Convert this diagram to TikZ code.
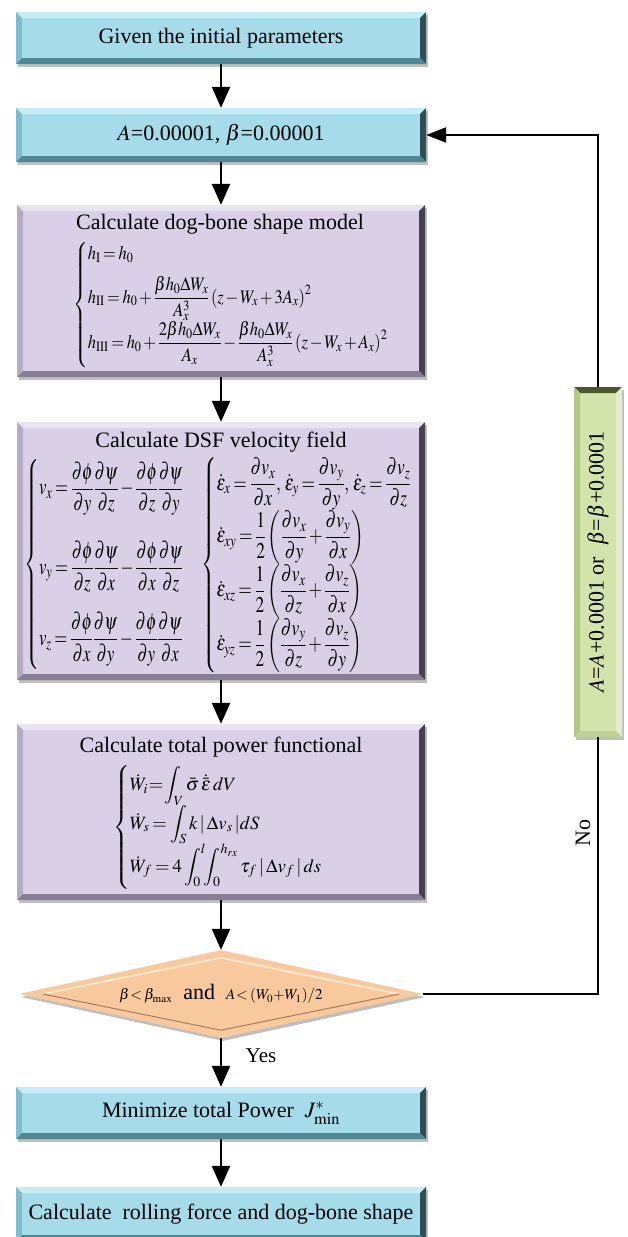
\documentclass[tikz,border=0pt]{standalone}
\usepackage{amsmath}
\usepackage{graphicx}
\usepackage{mathptmx}
\usepackage[no-math]{fontspec}
\setmainfont{Liberation Serif}
\usetikzlibrary{arrows.meta,shapes.geometric,shadows}
\definecolor{cyF}{HTML}{A6DCEA}
\definecolor{cyT}{HTML}{C6ECF5}
\definecolor{cyL}{HTML}{7DBDCC}
\definecolor{cyR}{HTML}{2E4E56}
\definecolor{cyB}{HTML}{4F8894}
\definecolor{puF}{HTML}{D9D0E7}
\definecolor{puT}{HTML}{E9E4F1}
\definecolor{puL}{HTML}{B5ABC3}
\definecolor{puR}{HTML}{47414F}
\definecolor{puB}{HTML}{877E93}
\definecolor{grF}{HTML}{D3E3AC}
\definecolor{grT}{HTML}{4A582E}
\definecolor{grL}{HTML}{B3C787}
\definecolor{grR}{HTML}{E4EDCB}
\definecolor{grB}{HTML}{BFD197}
\definecolor{diF}{HTML}{F9C99E}
\definecolor{diH}{HTML}{FFEBD6}
\definecolor{diS}{HTML}{A87A58}
\newcommand{\mypd}[2]{\dfrac{\partial #1}{\partial #2}}
\newcommand{\tightmath}{\thickmuskip=3mu plus 1mu\medmuskip=2mu plus 1mu\thinmuskip=2mu}
\newlength{\bevw}\setlength{\bevw}{6pt}
\tikzset{
 bevelbox/.style n args={5}{rectangle, inner sep=0pt, fill=#1,
  path picture={
   \path (path picture bounding box.north west) coordinate (bNW)
         (path picture bounding box.north east) coordinate (bNE)
         (path picture bounding box.south east) coordinate (bSE)
         (path picture bounding box.south west) coordinate (bSW);
   \fill[#2] (bNW) -- (bNE) -- ([xshift=-\bevw,yshift=-\bevw]bNE) -- ([xshift=\bevw,yshift=-\bevw]bNW) -- cycle;
   \fill[#3] (bNW) -- ([xshift=\bevw,yshift=-\bevw]bNW) -- ([xshift=\bevw,yshift=\bevw]bSW) -- (bSW) -- cycle;
   \fill[#4] (bNE) -- (bSE) -- ([xshift=-\bevw,yshift=\bevw]bSE) -- ([xshift=-\bevw,yshift=-\bevw]bNE) -- cycle;
   \fill[#5] (bSW) -- ([xshift=\bevw,yshift=\bevw]bSW) -- ([xshift=-\bevw,yshift=\bevw]bSE) -- (bSE) -- cycle;
  }},
 boxshadow/.style={drop shadow={shadow xshift=2pt,shadow yshift=-3pt,opacity=0.25,fill=black}},
 cyanbox/.style={boxshadow, bevelbox={cyF}{cyT}{cyL}{cyR}{cyB}, minimum width=410pt},
 purplebox/.style={boxshadow, bevelbox={puF}{puT}{puL}{puR}{puB}, minimum width=408pt},
 greenbox/.style={boxshadow, bevelbox={grF}{grT}{grL}{grR}{grB}},
 diabox/.style={diamond, aspect=4.6, minimum width=404pt, minimum height=88pt, inner sep=0pt, fill=diF, boxshadow},
 flow/.style={line width=2.6pt, -{Triangle[length=21pt,width=18pt]}},
 fb/.style={line width=2.2pt},
 eqn/.style={anchor=west, inner sep=0pt},
}
\begin{document}
\begin{tikzpicture}[x=1pt,y=-1pt, every node/.append style={font=\fontsize{22}{26}\selectfont}]
\useasboundingbox (0,0) rectangle (627,1237);

\node[cyanbox, minimum height=52pt] (n1) at (221,38) {Given the initial parameters};
\node[cyanbox, minimum height=54pt] (n2) at (221,135) {$A$=0.00001, $\beta$=0.00001};

\node[purplebox, minimum height=172pt] (n3) at (221,291) {};
\node (t3) at (220,224) {Calculate dog-bone shape model};
\node[eqn] (e3) at (73,305) {\resizebox*{315pt}{126pt}{$\tightmath\left\{\begin{array}{@{}l@{}}
h_{\mathrm{I}} = h_0\\[11pt]
h_{\mathrm{II}} = h_0 + \dfrac{\beta h_0 \Delta W_x}{A_x^3}\left(z - W_x + 3A_x\right)^2\\[9pt]
h_{\mathrm{III}} = h_0 + \dfrac{2\beta h_0\Delta W_x}{A_x} - \dfrac{\beta h_0\Delta W_x}{A_x^3}\left(z-W_x+A_x\right)^2
\end{array}\right.$}};

\node[purplebox, minimum height=258pt] (n4) at (221,551) {};
\node (t4) at (221,442) {Calculate DSF velocity field};
\node[eqn] (e4a) at (24,564) {\resizebox*{160pt}{210pt}{$\tightmath\left\{\begin{array}{@{}l@{}}
v_x=\mypd{\phi}{y}\mypd{\psi}{z}-\mypd{\phi}{z}\mypd{\psi}{y}\\[36pt]
v_y=\mypd{\phi}{z}\mypd{\psi}{x}-\mypd{\phi}{x}\mypd{\psi}{z}\\[28pt]
v_z=\mypd{\phi}{x}\mypd{\psi}{y}-\mypd{\phi}{y}\mypd{\psi}{x}
\end{array}\right.$}};
\node[eqn] (e4b) at (201,565) {\resizebox*{211pt}{216pt}{$\tightmath\left\{\begin{array}{@{}l@{}}
\dot\varepsilon_x=\mypd{v_x}{x},\,\dot\varepsilon_y=\mypd{v_y}{y},\,\dot\varepsilon_z=\mypd{v_z}{z}\\[12pt]
\dot\varepsilon_{xy}=\dfrac12\left(\mypd{v_x}{y}+\mypd{v_y}{x}\right)\\[9pt]
\dot\varepsilon_{xz}=\dfrac12\left(\mypd{v_x}{z}+\mypd{v_z}{x}\right)\\[9pt]
\dot\varepsilon_{yz}=\dfrac12\left(\mypd{v_y}{z}+\mypd{v_z}{y}\right)
\end{array}\right.$}};

\node[purplebox, minimum height=176pt] (n5) at (221,812) {};
\node (t5) at (221,747) {Calculate total power functional};
\node[eqn] (e5) at (113,827) {\resizebox*{209pt}{124pt}{$\tightmath\left\{\begin{array}{@{}l@{}}
\dot W_i\!=\!\displaystyle\int_V\bar\sigma\,\dot{\bar\varepsilon}\,dV\\[10pt]
\dot W_s=\displaystyle\int_S k\,|\,\Delta v_s\,|dS\\[10pt]
\dot W_f=4\displaystyle\int_0^l\!\!\int_0^{h_{rx}}\tau_f\,|\,\Delta v_f\,|\,ds
\end{array}\right.$}};

\node[diabox] (d) at (221,994) {{\fontsize{15}{18}\selectfont$\tightmath\beta\!<\beta_{\max}$}\ \ and\ \ {\fontsize{15}{18}\selectfont$\tightmath A\!<(W_0\!+\!W_1)/2$}};
\draw[diH, line width=1.6pt] ([xshift=24pt]d.west) -- ([yshift=-8pt]d.north) -- ([xshift=-24pt]d.east);
\draw[diS, line width=1pt] ([xshift=24pt]d.west) -- ([yshift=8pt]d.south) -- ([xshift=-24pt]d.east);

\node[cyanbox, minimum height=52pt] (n6) at (221,1113) {Minimize total Power\ \ $J^{*}_{\min}$};
\node[cyanbox, minimum height=54pt] (n7) at (221,1214) {Calculate\ \ rolling force and dog-bone shape};

\node[greenbox, minimum width=48pt, minimum height=350pt] (g) at (598,562) {};
\node[rotate=90] (gt) at (g.center) {$A$=$A$+0.0001 or\ \ $\beta$=$\beta$+0.0001};

\draw[flow] (n1.south) -- (n2.north);
\draw[flow] (n2.south) -- (n3.north);
\draw[flow] (n3.south) -- (n4.north);
\draw[flow] (n4.south) -- (n5.north);
\draw[flow] (n5.south) -- (d.north);
\draw[flow] (d.south) -- (n6.north);
\draw[flow] (n6.south) -- (n7.north);
\draw[fb] (d.east) -| (g.south);
\draw[fb, -{Triangle[length=20pt,width=15pt]}] (g.north) |- (n2.east);
\node[rotate=90] (no) at (583,833) {No};
\node[font=\fontsize{21}{24}\selectfont] (yes) at (261,1056) {Yes};
\end{tikzpicture}
\end{document}
